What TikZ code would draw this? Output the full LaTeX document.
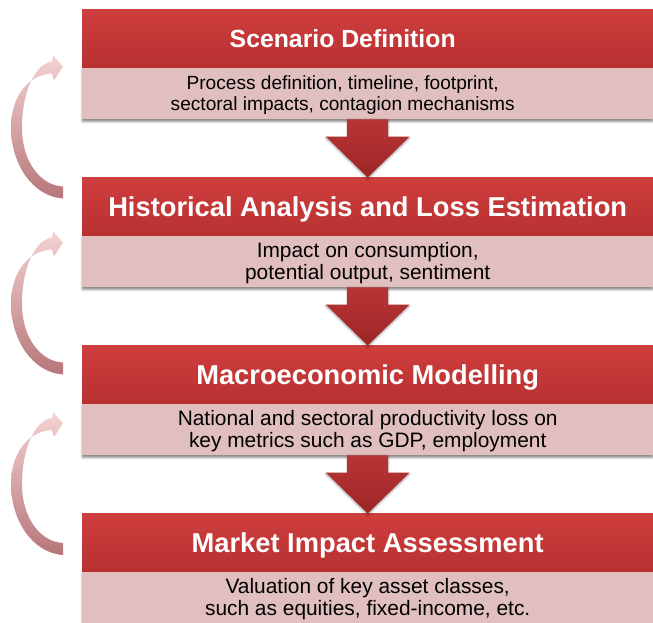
\documentclass[tikz,border=0pt]{standalone}
\usepackage{fontspec}
\setmainfont{Liberation Sans}
\usetikzlibrary{calc}
\usetikzlibrary{shadows.blur}

\definecolor{headtop}{RGB}{207,61,61}
\definecolor{headbot}{RGB}{184,49,49}
\definecolor{bodypink}{RGB}{226,191,191}
\definecolor{droptop}{RGB}{186,53,53}
\definecolor{dropbot}{RGB}{156,37,37}
\definecolor{looptop}{RGB}{245,210,210}
\definecolor{loopmid}{RGB}{232,188,189}
\definecolor{loopbot}{RGB}{182,118,121}

\begin{document}
\begin{tikzpicture}[x=1pt,y=-1pt]
        \useasboundingbox (0,0) rectangle (653,622);
        \clip (0,0) rectangle (653,622);

        \tikzstyle{headbox}=[rectangle,inner sep=0pt,minimum width=571pt,minimum height=58pt,
            top color=headtop,middle color=headtop,bottom color=headbot,anchor=north west]
        \tikzstyle{bodybox}=[rectangle,inner sep=0pt,minimum width=571pt,minimum height=52pt,
            fill=bodypink,anchor=north west,
            blur shadow={shadow xshift=0pt,shadow yshift=-2.5pt,shadow opacity=45,shadow blur radius=2pt}]
        \tikzstyle{downarrow}=[top color=droptop,bottom color=dropbot,
            blur shadow={shadow xshift=0pt,shadow yshift=-1.5pt,shadow opacity=35,shadow blur radius=2pt}]
        \tikzstyle{backarrow}=[top color=looptop,middle color=loopmid,bottom color=loopbot]

        % the four stages
        \foreach \i/\tsz/\bsz/\bskip/\dx/\ttl/\txt in {
            1/24.8/19.1/21/-25/{Scenario Definition}/{Process definition, timeline, footprint,\\sectoral impacts, contagion mechanisms},
            2/27.3/20.9/22/0/{Historical Analysis and Loss Estimation}/{Impact on consumption,\\potential output, sentiment},
            3/27.3/20.9/22/0/{Macroeconomic Modelling}/{National and sectoral productivity loss on\\key metrics such as GDP, employment},
            4/27.3/20.9/22/0/{Market Impact Assessment}/{Valuation of key asset classes,\\such as equities, fixed-income, etc.}} {
            \node[bodybox] (body_\i) at (82, {67+168*(\i-1)}) {};
            \node[headbox] (head_\i) at (82, {9.5+168*(\i-1)}) {};
            \node[anchor=base,text=white,font=\fontsize{\tsz}{\tsz}\selectfont\bfseries]
                (title_\i) at ([xshift=\dx pt,yshift=-0.36*\tsz pt]head_\i.center) {\ttl};
            \node[align=center,text=black,font=\fontsize{\bsz}{\bskip}\selectfont]
                (text_\i) at ([xshift=\dx pt,yshift=-2pt]body_\i.center) {\txt};
        }

        % block arrows between the stages
        \foreach \i/\j in {1/2,2/3,3/4} {
            \path[downarrow] ([xshift=-20.5pt]body_\i.south) -- ([xshift=-20.5pt,yshift=41pt]head_\j.north)
                -- ([xshift=-42pt,yshift=41pt]head_\j.north) -- (head_\j.north)
                -- ([xshift=42pt,yshift=41pt]head_\j.north) -- ([xshift=20.5pt,yshift=41pt]head_\j.north)
                -- ([xshift=20.5pt]body_\i.south) -- cycle;
        }

        % curved arrows going back up on the left
        \foreach \j/\dy in {2/15,3/23,4/35.5} {
            \begin{scope}[shift={([xshift=-19pt,yshift=-\dy pt]head_\j.north west)}]
                \path[backarrow] (0,6) .. controls (-30,4) and (-52,-28) .. (-52,-65)
                    .. controls (-52,-97) and (-34,-118) .. (-11,-119)
                    -- (-9,-112) -- (0,-126) -- (-10,-137) -- (-11,-131)
                    .. controls (-28,-129) and (-41,-100) .. (-41,-65)
                    .. controls (-41,-30) and (-22,-7) .. (0,-6) -- cycle;
            \end{scope}
        }
\end{tikzpicture}
\end{document}
